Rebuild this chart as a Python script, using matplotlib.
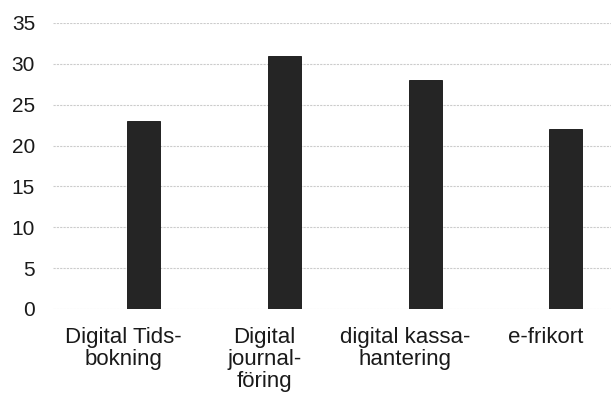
import matplotlib.pyplot as plt
from matplotlib.transforms import ScaledTranslation

plt.rcParams['font.family'] = ['Liberation Sans', 'DejaVu Sans']

categories = ['Digital Tids-\nbokning', 'Digital\njournal-\nföring',
              'digital kassa-\nhantering', 'e-frikort']
values = [23, 31, 28, 22]
y_ticks = [0, 5, 10, 15, 20, 25, 30, 35]

fig = plt.figure(figsize=(6.11, 4.0), dpi=100)
ax = fig.add_axes([0.087, 0.2275, 0.913, 0.715])

x = range(len(categories))
ax.bar(x, values, width=0.235, color='#252525', edgecolor='#111111',
       linewidth=0.6, zorder=3)

ax.set_ylim(0, 35)
ax.set_xlim(-0.64, 3.32)
ax.set_yticks(y_ticks)
ax.set_xticks(list(x))
ax.set_xticklabels(categories, fontsize=16, color='#1a1a1a', linespacing=1.05)
ax.tick_params(axis='y', labelsize=15, labelcolor='#1a1a1a', length=0, pad=13)
ax.tick_params(axis='x', length=0, pad=13)

# labels sit a bit left of the bars in the original
shift = ScaledTranslation(-0.20, 0, fig.dpi_scale_trans)
for lbl in ax.get_xticklabels():
    lbl.set_transform(lbl.get_transform() + shift)

ax.grid(axis='y', color='#cccccc', linestyle=(0, (2, 1)), linewidth=0.8, zorder=0)
for s in ax.spines.values():
    s.set_visible(False)

fig.savefig('out.png', dpi=100)
